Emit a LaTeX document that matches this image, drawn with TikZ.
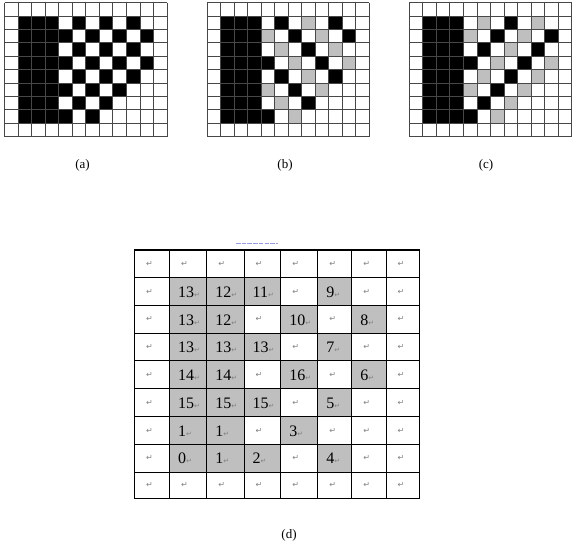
\documentclass[tikz,border=0pt]{standalone}
\usepackage{fontspec}
\setmainfont{Liberation Serif}
\newfontfamily\markfont{DejaVu Sans}
\usetikzlibrary{calc}
\definecolor{cellgray}{gray}{0.75}
\definecolor{gridline}{gray}{0.28}
\definecolor{markgray}{gray}{0.5}
\definecolor{artblue}{RGB}{150,158,225}
\newcommand\pmark{{\markfont\fontsize{8}{8}\selectfont\color{markgray}↵}}
\newcommand\smark{{\markfont\fontsize{7}{7}\selectfont\color{markgray}↵}}
\tikzset{
  gline/.style={draw=gridline, line width=0.9pt},
  blk/.style={fill=black},
  gry/.style={fill=cellgray},
  caption/.style={font=\fontsize{13}{15}\selectfont, inner sep=0pt},
  tline/.style={draw=black, line width=0.9pt},
  tborder/.style={draw=black, line width=1.4pt},
  numtext/.style={font=\fontsize{16}{18}\selectfont, anchor=west, inner sep=0pt},
  marktext/.style={anchor=west, inner sep=0pt}
}
\begin{document}
\begin{tikzpicture}[x=1pt,y=-1pt]
\useasboundingbox[fill=white] (0,0) rectangle (582,559);

% ---------- grid (a) ----------
\begin{scope}[shift={(4.7,2.7)}, x=13.53pt, y=-13.4pt]
  \fill[blk] (1,1) rectangle (4,9);
  \foreach \r/\cs in {1/{5,7,9},2/{4,6,8,10},3/{5,7,9},4/{4,6,8,10},5/{5,7,9},6/{4,6,8},7/{5,7},8/{4,6}}
    \foreach \c in \cs \fill[blk] (\c,\r) rectangle ++(1,1);
  \foreach \i in {0,...,12} \draw[gline] (\i,0) -- (\i,10);
  \foreach \j in {0,...,10} \draw[gline] (0,\j) -- (12,\j);
\end{scope}

% ---------- grid (b) ----------
\begin{scope}[shift={(207,2.7)}, x=13.53pt, y=-13.4pt]
  \fill[blk] (1,1) rectangle (4,9);
  \foreach \r/\cs in {1/{5,9},2/{6,10},3/{7},4/{4,8},5/{5,9},6/{6},7/{7},8/{4}}
    \foreach \c in \cs \fill[blk] (\c,\r) rectangle ++(1,1);
  \foreach \r/\cs in {1/{7},2/{4,8},3/{5,9},4/{6,10},5/{7},6/{4,8},7/{5},8/{6}}
    \foreach \c in \cs \fill[gry] (\c,\r) rectangle ++(1,1);
  \foreach \i in {0,...,12} \draw[gline] (\i,0) -- (\i,10);
  \foreach \j in {0,...,10} \draw[gline] (0,\j) -- (12,\j);
\end{scope}

% ---------- grid (c) ----------
\begin{scope}[shift={(409.3,2.7)}, x=13.53pt, y=-13.4pt]
  \fill[blk] (1,1) rectangle (4,9);
  \foreach \r/\cs in {1/{7},2/{6,10},3/{5,9},4/{4,8},5/{7},6/{6},7/{5},8/{4}}
    \foreach \c in \cs \fill[blk] (\c,\r) rectangle ++(1,1);
  \foreach \r/\cs in {1/{5,9},2/{4,8},3/{7},4/{6,10},5/{5,9},6/{4,8},7/{7},8/{6}}
    \foreach \c in \cs \fill[gry] (\c,\r) rectangle ++(1,1);
  \foreach \i in {0,...,12} \draw[gline] (\i,0) -- (\i,10);
  \foreach \j in {0,...,10} \draw[gline] (0,\j) -- (12,\j);
\end{scope}

% captions
\node[caption] (capa) at (82.5,165) {(a)};
\node[caption] (capb) at (285,165) {(b)};
\node[caption] (capc) at (486,165) {(c)};

% ---------- table (d) ----------
\foreach \c/\x in {0/134.3,1/169.3,2/206.7,3/244,4/280.7,5/317.7,6/351.7,7/386,8/419.7}
  \coordinate (X\c) at (\x,0);
\foreach \r/\y in {0/250,1/277.7,2/305.3,3/333.3,4/360.7,5/388.7,6/416.7,7/444.3,8/472,9/498.3}
  \coordinate (Y\r) at (0,\y);

% blue artifact above the table
\draw[artblue, line width=1.6pt, dash pattern=on 4.5pt off 1.2pt] (236,243.5) -- (278,243.5);

% gray cells with numbers
\foreach \r/\c/\n [evaluate=\r as \rr using int(\r+1), evaluate=\c as \cc using int(\c+1)] in
  {1/1/13,1/2/12,1/3/11,1/5/9,
   2/1/13,2/2/12,2/4/10,2/6/8,
   3/1/13,3/2/13,3/3/13,3/5/7,
   4/1/14,4/2/14,4/4/16,4/6/6,
   5/1/15,5/2/15,5/3/15,5/5/5,
   6/1/1,6/2/1,6/4/3,
   7/1/0,7/2/1,7/3/2,7/5/4}
{
  \fill[gry] (X\c |- Y\r) rectangle (X\cc |- Y\rr);
  \node[numtext] (n\r-\c) at ($(X\c |- Y\r)!0.5!(X\c |- Y\rr) + (8.5,0.5)$) {\n\smark};
}

% empty cells with paragraph marks
\foreach \r/\cs in {0/{0,1,2,3,4,5,6,7},1/{0,4,6,7},2/{0,3,5,7},3/{0,4,6,7},4/{0,3,5,7},
                    5/{0,4,6,7},6/{0,3,5,6,7},7/{0,4,6,7},8/{0,1,2,3,4,5,6,7}}
{
  \foreach \c [evaluate=\r as \rr using int(\r+1)] in \cs
    \node[marktext] (m\r-\c) at ($(X\c |- Y\r)!0.5!(X\c |- Y\rr) + (11.5,0)$) {\pmark};
}

% table lines
\foreach \c in {1,...,7} \draw[tline] (X\c |- Y0) -- (X\c |- Y9);
\foreach \r in {1,...,8} \draw[tline] (X0 |- Y\r) -- (X8 |- Y\r);
\draw[tborder] (X0 |- Y0) rectangle (X8 |- Y9);

\node[caption] (capd) at (289,535) {(d)};
\end{tikzpicture}
\end{document}
